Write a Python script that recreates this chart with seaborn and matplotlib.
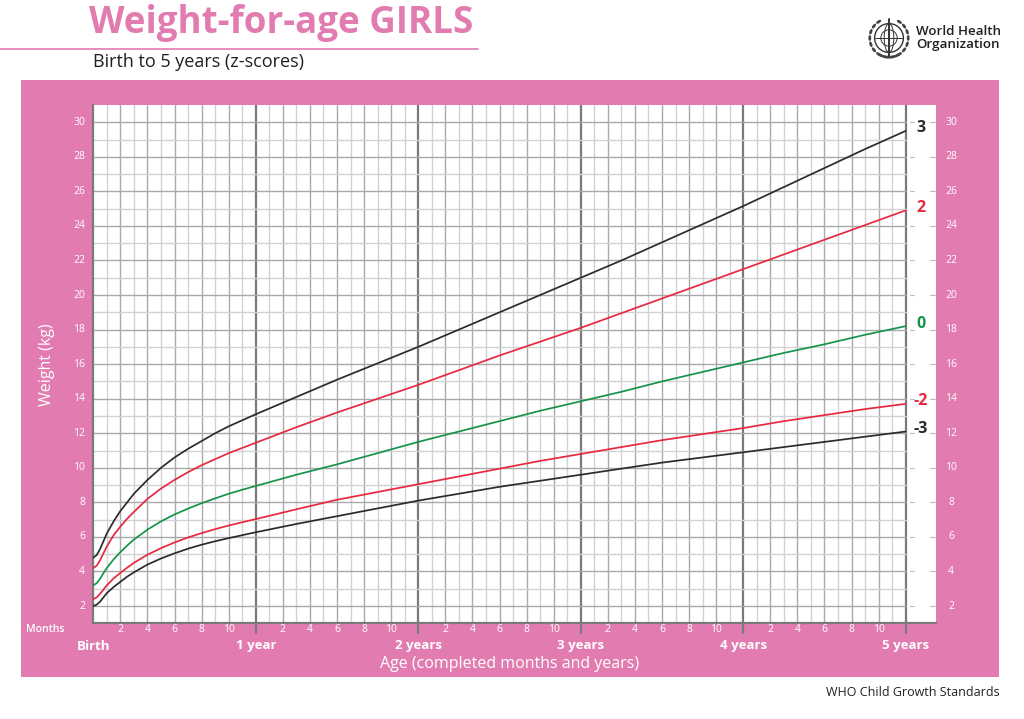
import numpy as np
import pandas as pd
import matplotlib
matplotlib.use("Agg")
import matplotlib.pyplot as plt
from matplotlib.patches import Rectangle, Circle, Ellipse
import seaborn as sns

# ---------------- data ----------------
months = [0, 0.25, 0.5, 0.75, 1, 1.5, 2, 2.5, 3, 4, 5, 6, 7, 8, 9, 10, 11, 12,
          15, 18, 21, 24, 27, 30, 33, 36, 39, 42, 45, 48, 51, 54, 57, 60]
sd3 = [4.8, 4.95, 5.3, 5.75, 6.2, 6.9, 7.5, 8.0, 8.5, 9.3, 10.0, 10.6, 11.1, 11.55, 12.0, 12.4, 12.75, 13.1,
       14.1, 15.1, 16.05, 17.0, 18.0, 19.0, 20.0, 21.0, 22.0, 23.05, 24.1, 25.15, 26.25, 27.35, 28.45, 29.5]
sd2 = [4.2, 4.33, 4.65, 5.05, 5.45, 6.1, 6.6, 7.05, 7.45, 8.2, 8.8, 9.3, 9.75, 10.15, 10.5, 10.85, 11.15, 11.45,
       12.35, 13.2, 14.0, 14.8, 15.65, 16.5, 17.3, 18.1, 18.95, 19.8, 20.65, 21.5, 22.35, 23.2, 24.05, 24.9]
sd0 = [3.2, 3.32, 3.58, 3.9, 4.2, 4.7, 5.12, 5.5, 5.85, 6.42, 6.9, 7.3, 7.64, 7.95, 8.23, 8.5, 8.73, 8.95,
       9.6, 10.2, 10.85, 11.5, 12.1, 12.7, 13.3, 13.85, 14.4, 15.0, 15.55, 16.1, 16.65, 17.15, 17.7, 18.2]
sd2neg = [2.4, 2.5, 2.7, 2.95, 3.2, 3.6, 3.92, 4.22, 4.5, 4.97, 5.35, 5.68, 5.97, 6.22, 6.45, 6.66, 6.85, 7.03,
          7.6, 8.15, 8.6, 9.05, 9.5, 9.95, 10.4, 10.8, 11.2, 11.6, 11.95, 12.3, 12.7, 13.05, 13.4, 13.7]
sd3neg = [2.0, 2.08, 2.25, 2.5, 2.75, 3.1, 3.4, 3.7, 3.95, 4.4, 4.75, 5.05, 5.32, 5.55, 5.75, 5.93, 6.1, 6.27,
          6.75, 7.2, 7.65, 8.1, 8.5, 8.9, 9.25, 9.6, 9.95, 10.3, 10.6, 10.9, 11.2, 11.5, 11.8, 12.1]

zlabels = ["3", "2", "0", "-2", "-3"]
series = [sd3, sd2, sd0, sd2neg, sd3neg]
month_ticks = [2, 4, 6, 8, 10]
year_labels = ["Birth", "1 year", "2 years", "3 years", "4 years", "5 years"]
weight_ticks = list(range(2, 31, 2))

PINK = "#E27CB0"
BLACK = "#2B2B2B"
RED = "#E8283F"
GREEN = "#17924B"
palette = {"3": BLACK, "2": RED, "0": GREEN, "-2": RED, "-3": BLACK}

df = pd.DataFrame({
    "month": np.tile(months, len(zlabels)),
    "weight": np.concatenate(series),
    "z": np.repeat(zlabels, len(months)),
})

# ---------------- figure ----------------
sns.set_theme(style="white")
plt.rcParams["font.family"] = ["Open Sans", "DejaVu Sans"]

W, H = 1024, 719
fig = plt.figure(figsize=(W / 100, H / 100), dpi=100)

def fx(px):
    return px / W

def fy(py):
    return 1 - py / H

# pink panel (background axes)
bg = fig.add_axes([0, 0, 1, 1], zorder=-10)
bg.set_xlim(0, W)
bg.set_ylim(H, 0)
bg.axis("off")
bg.add_patch(Rectangle((21, 80), 999 - 21, 677 - 80, facecolor=PINK, edgecolor="none"))
bg.plot([0, 478], [49, 49], color=PINK, lw=1.2)

# title area
fig.text(fx(89), fy(23), "Weight-for-age GIRLS", color=PINK, fontsize=26.5, fontweight="bold",
         ha="left", va="center")
fig.text(fx(93), fy(62), "Birth to 5 years (z-scores)", color="#231F20", fontsize=13,
         ha="left", va="center")

# WHO logo (simple emblem) + text
cx, cy = 889, 38
ax_logo = fig.add_axes([fx(cx - 24), fy(cy + 24), fx(48), fy(0) - fy(48)])
ax_logo.set_xlim(-1, 1)
ax_logo.set_ylim(-1, 1)
ax_logo.set_aspect("equal")
ax_logo.axis("off")
ax_logo.add_patch(Circle((0, 0), 0.6, fill=False, lw=1.0, color="#333333"))
ax_logo.add_patch(Circle((0, 0), 0.34, fill=False, lw=0.7, color="#333333"))
ax_logo.add_patch(Ellipse((0, 0), 0.4, 1.2, fill=False, lw=0.7, color="#333333"))
ax_logo.plot([-0.6, 0.6], [0, 0], color="#333333", lw=0.7)
ax_logo.plot([0, 0], [-0.75, 0.8], color="#333333", lw=1.4)
for side in (-1, 1):
    for a in np.linspace(-2.0, 1.0, 10):
        ax_logo.add_patch(Ellipse((side * 0.8 * np.cos(a), 0.8 * np.sin(a)), 0.24, 0.12,
                                  angle=side * (np.degrees(a) + 90), color="#444444", lw=0))
fig.text(fx(916), fy(38), "World Health\nOrganization", color="#231F20", fontsize=9.6,
         fontweight="semibold", ha="left", va="center", linespacing=0.95)

fig.text(fx(1000), fy(692), "WHO Child Growth Standards", color="#231F20", fontsize=9,
         ha="right", va="center")

# main axes
x_left, x_right, y_top, y_bot = 93.3, 935.7, 105, 623.3
ax = fig.add_axes([fx(x_left), fy(y_bot), fx(x_right) - fx(x_left), fy(y_top) - fy(y_bot)])
ax.set_facecolor("white")
xmax = (x_right - x_left) / 13.54
ax.set_xlim(0, xmax)
ax.set_ylim(1, 31)

# grid
for m in range(1, 61):
    if m % 12 == 0:
        ax.axvline(m, color="#7A7A7A", lw=1.6, zorder=1)
    elif m % 2 == 0:
        ax.axvline(m, color="#A9A9A9", lw=1.0, zorder=1)
    else:
        ax.axvline(m, color="#D2D2D2", lw=1.0, zorder=1)
for k in range(2, 31):
    c = "#A9A9A9" if k % 2 == 0 else "#D2D2D2"
    ax.plot([0, 60], [k, k], color=c, lw=1.0, zorder=1)
# short ticks right of 5-year line at even kg
for k in range(2, 31, 2):
    ax.plot([60.3, 60.6], [k, k], color="#BBBBBB", lw=0.8, zorder=1)
    ax.plot([61.8, 62.2], [k, k], color="#BBBBBB", lw=0.8, zorder=1)

sns.lineplot(data=df, x="month", y="weight", hue="z", palette=palette, hue_order=zlabels,
             lw=1.25, legend=False, ax=ax, zorder=3)

for lab, s in zip(zlabels, series):
    ax.text(61.1, s[-1] + 0.15, lab, color=palette[lab], fontsize=11.5, fontweight="bold",
            ha="center", va="center", zorder=4)

for sp in ["top", "right"]:
    ax.spines[sp].set_visible(False)
ax.spines["left"].set_color("#7A7A7A")
ax.spines["bottom"].set_color("#7A7A7A")
ax.spines["left"].set_linewidth(1.6)
ax.spines["bottom"].set_linewidth(1.6)
ax.set_xticks([])
ax.set_yticks([])
ax.set_xlabel("")
ax.set_ylabel("")

# tick labels (in the pink frame)
def data_y_to_fig(w):
    return ax.transData.transform((0, w))[1] / fig.dpi / fig.get_figheight()

def data_x_to_fig(m):
    return ax.transData.transform((m, 0))[0] / fig.dpi / fig.get_figwidth()

for w in weight_ticks:
    yf = data_y_to_fig(w)
    fig.text(fx(85), yf, str(w), color="white", fontsize=7.5, ha="right", va="center")
    fig.text(fx(951), yf, str(w), color="white", fontsize=7.5, ha="center", va="center")

for yr in range(5):
    for m in month_ticks:
        fig.text(data_x_to_fig(yr * 12 + m), fy(630), str(m), color="white", fontsize=7.5,
                 ha="center", va="center")
for yr in range(1, 6):
    xf = data_x_to_fig(yr * 12)
    bg.plot([xf * W, xf * W], [623, 633], color="#7A7A7A", lw=1.6)
for i, lab in enumerate(year_labels):
    fig.text(data_x_to_fig(i * 12), fy(646), lab, color="white", fontsize=9.5, fontweight="bold",
             ha="center", va="center")

fig.text(fx(45), fy(630), "Months", color="white", fontsize=7.5, fontweight="semibold",
         ha="center", va="center")
fig.text(fx(510), fy(664), "Age (completed months and years)", color="white", fontsize=11.5,
         ha="center", va="center")
fig.text(fx(47), fy(365), "Weight (kg)", color="white", fontsize=11.5, rotation=90,
         ha="center", va="center")

fig.savefig("out.png", dpi=100)
